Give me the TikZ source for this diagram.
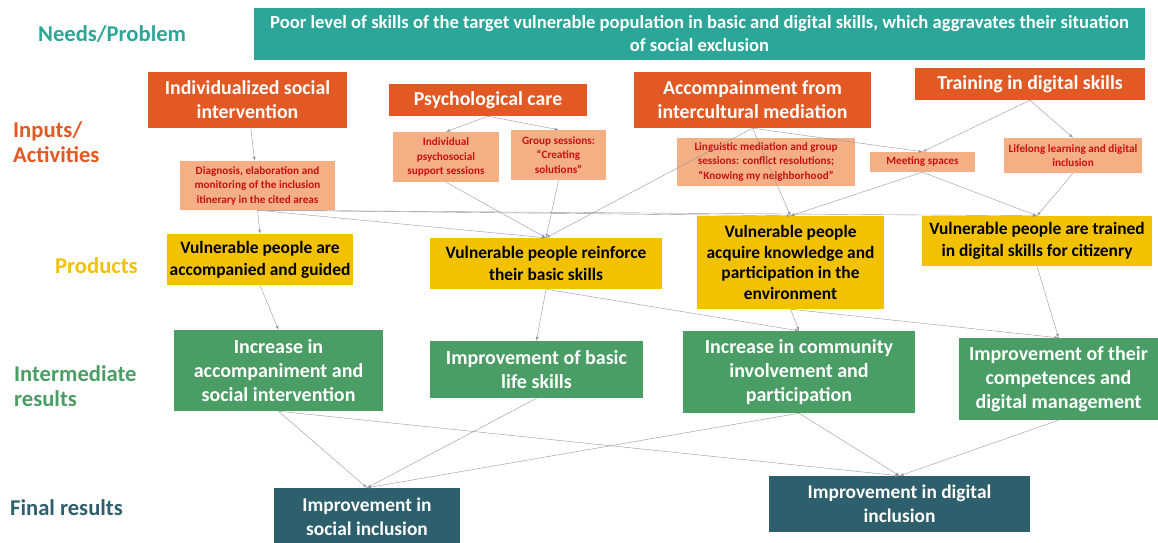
\documentclass[tikz,border=0pt]{standalone}
\usepackage{fontspec}
\setmainfont{Carlito}
\definecolor{needteal}{RGB}{44,166,152}
\definecolor{actorange}{RGB}{226,89,36}
\definecolor{actsalmon}{RGB}{244,176,132}
\definecolor{actred}{RGB}{200,16,16}
\definecolor{prodyellow}{RGB}{242,193,0}
\definecolor{resgreen}{RGB}{74,157,100}
\definecolor{finteal}{RGB}{45,95,108}
\definecolor{linkgray}{RGB}{150,150,150}
\newcommand{\fs}[2]{\fontsize{#1}{#2}\selectfont}
\begin{document}
\begin{tikzpicture}
    [
    x=1pt,y=-1pt,
    box/.style={rectangle,inner sep=1pt,align=center},
    need/.style={box,fill=needteal,text=white,font=\bfseries\fs{18.6}{23}},
    activity/.style={box,fill=actorange,text=white,font=\bfseries\fs{19.8}{24}},
    subactivity/.style={box,fill=actsalmon,text=actred,font=\bfseries\fs{11.2}{14.5}},
    product/.style={box,fill=prodyellow,text=black,font=\bfseries\fs{17.4}{22}},
    result/.style={box,fill=resgreen,text=white,font=\bfseries\fs{20}{24}},
    final/.style={box,fill=finteal,text=white,font=\bfseries\fs{19.4}{24}},
    level/.style={align=left,anchor=west,inner sep=0pt,font=\bfseries\fs{22.6}{25.5}},
    link/.style={draw=linkgray,-latex}
    ]
    \useasboundingbox (0,0) rectangle (1158,542);
    % row labels
    \node (lneed) at (38,34) [level,text=needteal] {Needs/Problem};
    \node (lact) at (13,142) [level,text=actorange] {Inputs/\\Activities};
    \node (lprod) at (55,266) [level,text=prodyellow] {Products};
    \node (lres) at (14,386) [level,text=resgreen] {Intermediate\\results};
    \node (lfin) at (10,508) [level,text=finteal] {Final results};
    % needs
    \node (need) at (699.5,34) [need,minimum width=891pt,minimum height=52pt] {Poor level of skills of the target vulnerable population in basic and digital skills, which aggravates their situation\\of social exclusion};
    % activities
    \node (indiv) at (247.5,100) [activity,minimum width=199pt,minimum height=56pt] {Individualized social\\intervention};
    \node (psych) at (488,100) [activity,minimum width=198pt,minimum height=32pt] {Psychological care};
    \node (accomp) at (752.5,100) [activity,minimum width=237pt,minimum height=56pt] {Accompainment from\\intercultural mediation};
    \node (train) at (1030,84) [activity,minimum width=230pt,minimum height=32pt] {Training in digital skills};
    \node (diag) at (257.5,185.5) [subactivity,minimum width=155pt,minimum height=49pt] {Diagnosis, elaboration and\\monitoring of the inclusion\\itinerary in the cited areas};
    \node (psysupport) at (446,157) [subactivity,minimum width=106pt,minimum height=50pt] {Individual\\psychosocial\\support sessions};
    \node (groupsess) at (558.5,155) [subactivity,minimum width=95pt,minimum height=50pt] {Group sessions:\\``Creating\\solutions''};
    \node (ling) at (766,162) [subactivity,minimum width=178pt,minimum height=48pt] {Linguistic mediation and group\\sessions: conflict resolutions;\\``Knowing my neighborhood''};
    \node (meeting) at (922.5,162) [subactivity,minimum width=105pt,minimum height=20pt] {Meeting spaces};
    \node (lifelong) at (1073,155.5) [subactivity,minimum width=138pt,minimum height=35pt] {Lifelong learning and digital\\inclusion};
    % products
    \node (guided) at (260,259.5) [product,minimum width=186pt,minimum height=51pt] {Vulnerable people are\\accompanied and guided};
    \node (basic) at (546,263.5) [product,minimum width=232pt,minimum height=51pt] {Vulnerable people reinforce\\their basic skills};
    \node (knowledge) at (790.5,262.5) [product,minimum width=187pt,minimum height=93pt,font=\bfseries\fs{17.4}{20.7}] {Vulnerable people\\acquire knowledge and\\participation in the\\environment};
    \node (trained) at (1037,241) [product,minimum width=230pt,minimum height=50pt] {Vulnerable people are trained\\in digital skills for citizenry};
    % intermediate results
    \node (raccomp) at (278.5,370.5) [result,minimum width=209pt,minimum height=81pt] {Increase in\\accompaniment and\\social intervention};
    \node (rlife) at (536.5,369.5) [result,minimum width=213pt,minimum height=57pt] {Improvement of basic\\life skills};
    \node (rcommunity) at (799,372) [result,minimum width=232pt,minimum height=82pt] {Increase in community\\involvement and\\participation};
    \node (rdigital) at (1058.5,379) [result,minimum width=199pt,minimum height=82pt] {Improvement of their\\competences and\\digital management};
    % final results
    \node (fsocial) at (367,517) [final,minimum width=186pt,minimum height=58pt] {Improvement in\\social inclusion};
    \node (fdigital) at (899.5,504) [final,minimum width=261pt,minimum height=56pt] {Improvement in digital\\inclusion};
    % links
    \draw [link] (indiv) to (diag);
    \draw [link] (psych.south) to (psysupport.north);
    \draw [link] (psych.south) to (groupsess.north);
    \draw [link] (accomp.south) to (meeting.north);
    \draw [link] (accomp.south) to (basic.north);
    \draw [link] (accomp.south) to (knowledge.north);
    \draw [link] (train.south) to (meeting.north);
    \draw [link] (train.south) to (lifelong.north);
    \draw [link] (diag.south) to (guided.north);
    \draw [link] (diag.south) to (basic.north);
    \draw [link] (diag.south) to (knowledge.north);
    \draw [link] (diag.south) to (trained.north);
    \draw [link] (psysupport.south) to (basic.north);
    \draw [link] (groupsess.south) to (basic.north);
    \draw [link] (meeting.south) to (knowledge.north);
    \draw [link] (meeting.south) to (trained.north);
    \draw [link] (lifelong.south) to (trained.north);
    \draw [link] (guided.south) to (raccomp.north);
    \draw [link] (basic.south) to (rlife.north);
    \draw [link] (basic.south) to (rcommunity.north);
    \draw [link] (knowledge.south) to (rcommunity.north);
    \draw [link] (knowledge.south) to (rdigital.north);
    \draw [link] (trained.south) to (rdigital.north);
    \draw [link] (raccomp.south) to (fsocial.north);
    \draw [link] (raccomp.south) to (fdigital.north);
    \draw [link] (rlife.south) to (fsocial.north);
    \draw [link] (rcommunity.south) to (fsocial.north);
    \draw [link] (rcommunity.south) to (fdigital.north);
    \draw [link] (rdigital.south) to (fdigital.north);
\end{tikzpicture}
\end{document}
